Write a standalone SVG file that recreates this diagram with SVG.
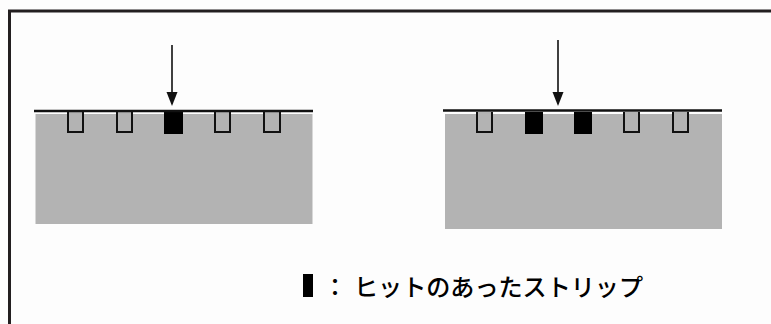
<svg xmlns="http://www.w3.org/2000/svg" width="771" height="324" viewBox="0 0 771 324">
<style>
.bg{fill:#fdfdfd}
.frame{fill:none;stroke:#231f20;stroke-width:3}
.sub{fill:#b3b3b3}
.surf{stroke:#111;stroke-width:2.5}
.strip{fill:#b3b3b3;stroke:#111;stroke-width:2}
.hit{fill:#000}
.arr{stroke:#111;stroke-width:1.6;fill:none}
.head{fill:#111}
.lbl{font-family:"Noto Sans CJK JP","Noto Sans",sans-serif;font-size:24px;font-weight:500;fill:#000}
</style>
<rect class="bg" width="771" height="324"/>
<path class="frame" d="M9.5,324 V11 H771"/>
<g id="detector-left">
<rect class="sub" x="35.5" y="114" width="277" height="110"/>
<path class="strip" d="M68,112 V132 H83 V112"/>
<path class="strip" d="M117,112 V132 H132 V112"/>
<rect class="hit" x="164" y="112" width="19" height="22"/>
<path class="strip" d="M215,112 V132 H230 V112"/>
<path class="strip" d="M264,112 V132 H280 V112"/>
<line class="surf" x1="34" y1="111" x2="313" y2="111"/>
</g>
<g id="detector-right">
<rect class="sub" x="445" y="114" width="277" height="115"/>
<path class="strip" d="M477,112 V132 H492 V112"/>
<rect class="hit" x="525" y="112" width="18" height="22"/>
<rect class="hit" x="574" y="112" width="18" height="22"/>
<path class="strip" d="M624,112 V132 H639 V112"/>
<path class="strip" d="M673,112 V132 H688 V112"/>
<line class="surf" x1="443" y1="110.5" x2="722" y2="110.5"/>
</g>
<g id="connectors">
<line class="arr" x1="172" y1="45" x2="172" y2="94"/>
<path class="head" d="M166.5,92 L177.5,92 L172,106 Z"/>
<line class="arr" x1="558" y1="40" x2="558" y2="94"/>
<path class="head" d="M552.5,92 L563.5,92 L558,106 Z"/>
</g>
<g id="legend">
<rect class="hit" x="303" y="274" width="10" height="23"/>
<text class="lbl" x="335" y="296" text-anchor="middle">：</text>
<text class="lbl" x="354" y="296" textLength="289" lengthAdjust="spacingAndGlyphs">ヒットのあったストリップ</text>
</g>
</svg>
